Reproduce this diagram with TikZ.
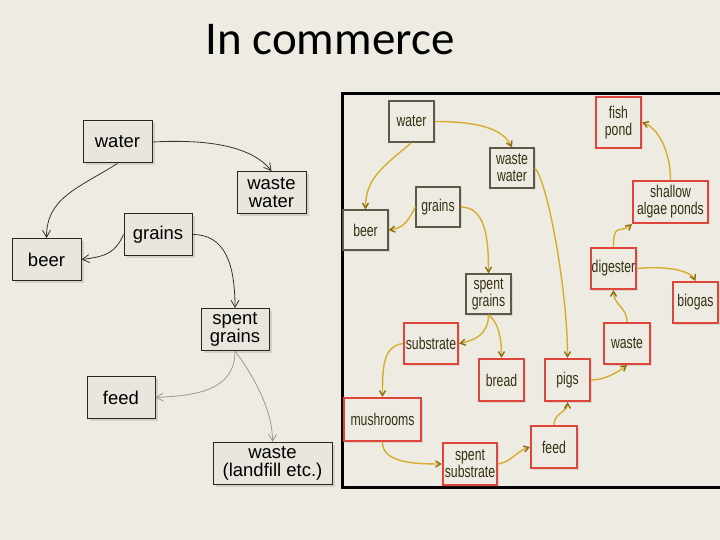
\documentclass[tikz,border=0pt]{standalone}
\usepackage{fontspec}
\setmainfont{Liberation Sans}
\newfontfamily\titlefont{Carlito}
\newfontfamily\narrowfont[FakeStretch=0.72]{Liberation Sans}
\usetikzlibrary{arrows.meta,shadows}
\definecolor{bg}{HTML}{EEECE2}
\definecolor{boxfill}{HTML}{E8E6DD}
\definecolor{gold}{HTML}{D8AC2C}
\definecolor{goldtip}{HTML}{8A6D12}
\definecolor{redbox}{HTML}{E0453A}
\definecolor{greybox}{HTML}{5E5848}
\definecolor{txt}{HTML}{352F12}
\tikzset{
  lbox/.style={draw=black!85, line width=1pt, fill=boxfill, minimum width=69pt,
    minimum height=42pt, inner sep=2pt, align=center,
    font=\fontsize{18.5}{18.5}\selectfont,
    drop shadow={shadow xshift=2.5pt, shadow yshift=-2.5pt, opacity=0.25}},
  rbox/.style={draw=greybox, line width=1.3pt, fill=bg, minimum width=45pt,
    minimum height=41pt, inner sep=1pt, align=center, text=txt,
    font=\narrowfont\fontsize{17}{17}\selectfont,
    drop shadow={shadow xshift=1.5pt, shadow yshift=-1.5pt, opacity=0.2}},
  redb/.style={rbox, draw=redbox, line width=2.2pt},
  larrow/.style={draw=black!80, line width=0.8pt, -{Straight Barb[length=7pt,width=8pt]}},
  lgarrow/.style={draw=black!40, line width=0.8pt, -{Straight Barb[length=7pt,width=8pt]}},
  rarrow/.style={draw=gold, line width=1.4pt, -{Straight Barb[length=5pt,width=6pt,color=goldtip]}},
}
\begin{document}
\begin{tikzpicture}[x=1pt,y=-1pt]
\fill[bg] (0,0) rectangle (720,540);
\useasboundingbox (0,0) rectangle (720,540);
\clip (0,0) rectangle (720,540);
\node[font=\titlefont\fontsize{47}{47}\selectfont, anchor=base] (title) at (330,55) {In commerce};

% ---------- left diagram ----------
\node[lbox] (lwater) at (117.5,142) {water};
\node[lbox] (lww) at (271.5,192.5) {waste\\water};
\node[lbox, minimum width=68pt] (lgrains) at (158,234.5) {grains};
\node[lbox] (lbeer) at (46.5,259.5) {beer};
\node[lbox, minimum width=68pt] (lspent) at (235,329.5) {spent\\grains};
\node[lbox, minimum width=68pt] (lfeed) at (121,397.5) {feed};
\node[lbox, minimum width=119pt] (lwaste) at (272.5,463.5) {waste\\(landfill etc.)};

\draw[larrow] (lwater.south) .. controls +(-40,25) and +(0,-40) .. (lbeer.north);
\draw[larrow] (lwater.east) .. controls +(55,-3) and +(-20,-25) .. (lww.north);
\draw[larrow] (lgrains.west) .. controls +(-8,18) and +(25,-3) .. (lbeer.east);
\draw[larrow] (lgrains.east) .. controls +(32,0) and +(0,-45) .. (lspent.north);
\draw[lgarrow] (lspent.south) .. controls +(0,40) and +(40,-2) .. (lfeed.east);
\draw[lgarrow] (lspent.south) .. controls +(15,20) and +(0,-35) .. (lwaste.north);

% ---------- right panel ----------
\draw[line width=3pt, black] (342,94) rectangle (730,487);

\node[rbox] (rwater) at (411.5,121.5) {water};
\node[rbox, minimum width=44pt, minimum height=40pt] (rww) at (512,168) {waste\\water};
\node[rbox, minimum width=44pt, minimum height=40pt] (rgrains) at (438,207) {grains};
\node[rbox, minimum height=40pt] (rbeer) at (365.5,230) {beer};
\node[rbox, minimum height=40pt] (rspent) at (488.5,294) {spent\\grains};

\node[redb, minimum height=51pt] (rfish) at (618.5,122.5) {fish\\pond};
\node[redb, minimum width=75pt, minimum height=42pt] (ralgae) at (670.5,202) {shallow\\algae ponds};
\node[redb] (rdig) at (613.5,268.5) {digester};
\node[redb] (rbiogas) at (695.5,302.5) {biogas};
\node[redb, minimum width=46pt] (rwaste) at (627,343.5) {waste};
\node[redb, minimum height=42pt] (rpigs) at (567.5,380) {pigs};
\node[redb, minimum height=42pt] (rbread) at (501.5,380) {bread};
\node[redb, minimum width=54pt] (rsub) at (431,343.5) {substrate};
\node[redb, minimum width=77pt, minimum height=43pt] (rmush) at (382.5,419.5) {mushrooms};
\node[redb, minimum width=54pt, minimum height=42pt] (rss) at (470,464) {spent\\substrate};
\node[redb, minimum width=46pt, minimum height=42pt] (rfeed) at (554,447) {feed};

\draw[rarrow] (rwater.south) .. controls +(-30,25) and +(0,-30) .. (rbeer.north);
\draw[rarrow] (rwater.east) .. controls +(40,0) and +(-10,-20) .. (rww.north);
\draw[rarrow] (rgrains.west) .. controls +(-8,15) and +(15,-2) .. (rbeer.east);
\draw[rarrow] (rgrains.east) .. controls +(25,0) and +(0,-35) .. (rspent.north);
\draw[rarrow] (rww.east) .. controls +(12,10) and +(0,-70) .. (rpigs.north);
\draw[rarrow] (rspent.south) .. controls +(0,20) and +(15,-3) .. (rsub.east);
\draw[rarrow] (rspent.south) .. controls +(10,8) and +(0,-20) .. (rbread.north);
\draw[rarrow] (rsub.west) .. controls +(-20,3) and +(0,-30) .. (rmush.north);
\draw[rarrow] (rmush.south) .. controls +(0,20) and +(-30,0) .. (rss.west);
\draw[rarrow] (rss.east) .. controls +(15,-3) and +(-15,5) .. (rfeed.west);
\draw[rarrow] (rfeed.north) .. controls +(0,-12) and +(0,10) .. (rpigs.south);
\draw[rarrow] (rpigs.east) .. controls +(15,0) and +(-8,6) .. (rwaste.south);
\draw[rarrow] (rwaste.north) .. controls +(0,-15) and +(0,15) .. (rdig.south);
\draw[rarrow] (rdig.north) .. controls +(0,-25) and +(-12,10) .. (ralgae.south west);
\draw[rarrow] (rdig.east) .. controls +(30,-3) and +(-5,-10) .. (rbiogas.north);
\draw[rarrow] (ralgae.north) .. controls +(0,-30) and +(15,5) .. (rfish.east);
\end{tikzpicture}
\end{document}
